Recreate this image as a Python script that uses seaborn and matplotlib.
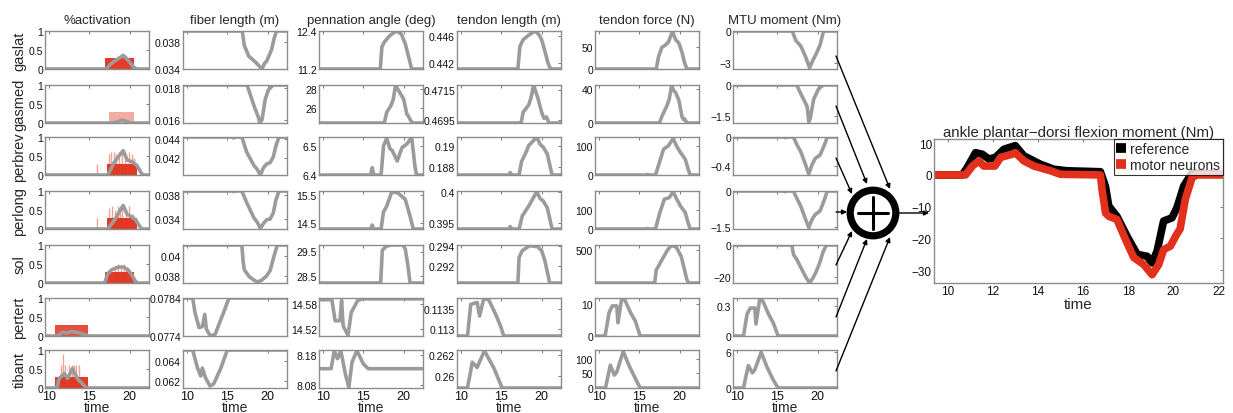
import pandas as pd
import matplotlib
matplotlib.use("Agg")
import matplotlib.pyplot as plt
from matplotlib.patches import Circle
import seaborn as sns

sns.set_style("white")
plt.rcParams['font.family'] = ['Liberation Sans', 'DejaVu Sans']

GRAY = '#9b9b9b'
RED = '#e2301c'
SPINE = '#8c8c8c'

muscles = ['gaslat', 'gasmed', 'perbrev', 'perlong', 'sol', 'pertert', 'tibant']
columns = ['%activation', 'fiber length (m)', 'pennation angle (deg)',
           'tendon length (m)', 'tendon force (N)', 'MTU moment (Nm)']

# ----- curves: (time, value) breakpoints -----
gaslat_act = [(9.5, 0), (17.1, 0), (17.6, 0.12), (18.2, 0.22), (18.8, 0.3), (19.2, 0.36), (19.6, 0.28),
              (20.1, 0.15), (20.5, 0.05), (20.9, 0), (22.4, 0)]
gaslat_fiber = [(9.5, 0.0396), (16.85, 0.0396), (17.1, 0.0375), (17.65, 0.0359), (18.5, 0.035), (19.3, 0.034),
                (19.6, 0.0348), (19.9, 0.0352), (20.5, 0.0369), (20.8, 0.0385), (21.1, 0.0396), (22.4, 0.0396)]
gaslat_penn = [(9.5, 11.2), (17.1, 11.2), (17.3, 11.9), (17.6, 12.05), (18.3, 12.26), (19.1, 12.4), (19.7, 12.31),
               (20.2, 12.0), (20.5, 11.7), (21.0, 11.2), (22.4, 11.2)]
gaslat_tlen = [(9.5, 0.44115), (17.05, 0.44115), (17.3, 0.4445), (17.7, 0.4455), (18.4, 0.4462), (19.2, 0.4468),
               (19.7, 0.4462), (20.0, 0.4455), (20.4, 0.4438), (20.8, 0.442), (21.1, 0.44115), (22.4, 0.44115)]
gaslat_force = [(9.5, 0), (17.1, 0), (17.4, 30), (17.8, 50), (18.2, 55), (18.6, 62), (19.1, 87), (19.5, 68),
                (19.9, 60), (20.3, 38), (20.6, 15), (20.9, 0), (22.4, 0)]
gaslat_mom = [(9.5, 0), (16.85, 0), (17.3, -0.9), (17.9, -1.4), (18.5, -2.4), (19.0, -3.45), (19.3, -2.9),
              (19.9, -2.0), (20.3, -1.3), (20.7, -0.1), (20.9, 0), (22.4, 0)]

gasmed_act = [(9.5, 0), (17.8, 0), (18.5, 0.03), (19.1, 0.08), (19.6, 0.04), (20.2, 0), (22.4, 0)]
gasmed_fiber = [(9.5, 0.0182), (17.45, 0.0182), (18.3, 0.0169), (18.9, 0.0161), (19.0, 0.0158), (19.3, 0.016),
                (19.7, 0.0173), (20.1, 0.0179), (20.7, 0.0182), (22.4, 0.0182)]
gasmed_penn = [(9.5, 24.5), (17.6, 24.5), (17.9, 25.6), (18.4, 26.25), (18.7, 26.9), (19.0, 28.35), (19.4, 27.8),
               (20.0, 26.95), (20.4, 25.4), (20.6, 25.2), (20.8, 24.85), (21.1, 24.5), (22.4, 24.5)]
gasmed_tlen = [(9.5, 0.4693), (17.45, 0.4693), (17.7, 0.47), (18.4, 0.4705), (18.7, 0.471), (19.0, 0.4718),
               (19.3, 0.4713), (19.5, 0.471), (20.0, 0.47), (20.3, 0.4696), (20.6, 0.4697), (20.9, 0.4693),
               (22.4, 0.4693)]
gasmed_force = [(9.5, 0), (17.5, 0), (17.8, 8), (18.4, 20), (18.7, 28), (19.0, 44), (19.3, 38), (19.5, 36),
                (19.9, 27), (20.3, 7), (20.5, 4), (20.6, 5), (20.9, 0), (22.4, 0)]
gasmed_mom = [(9.5, 0), (17.4, 0), (18.0, -0.5), (18.7, -1.05), (18.9, -1.8), (19.1, -1.6), (19.5, -0.7),
              (20.1, -0.2), (20.7, 0), (22.4, 0)]

perbrev_act = [(9.5, 0), (17.3, 0), (18.0, 0.3), (18.6, 0.48), (19.2, 0.64), (19.7, 0.39), (20.3, 0.35),
               (20.9, 0.25), (21.5, 0.03), (21.8, 0), (22.4, 0)]
perbrev_fiber = [(9.5, 0.0442), (15.6, 0.0442), (15.8, 0.0441), (16.0, 0.0442), (16.8, 0.0442), (17.4, 0.0426),
                 (18.3, 0.0412), (18.7, 0.0408), (19.1, 0.0402), (19.5, 0.041), (19.9, 0.04137), (20.3, 0.0415),
                 (20.7, 0.0421), (21.0, 0.0432), (21.4, 0.0442), (22.4, 0.0442)]
perbrev_penn = [(9.5, 6.4), (15.9, 6.4), (16.1, 6.425), (16.3, 6.4), (17.2, 6.4), (17.5, 6.5), (17.9, 6.525),
                (18.3, 6.49), (18.6, 6.483), (19.2, 6.448), (19.8, 6.494), (20.4, 6.506), (21.0, 6.529),
                (21.4, 6.43), (21.6, 6.4), (22.4, 6.4)]
perbrev_tlen = [(9.5, 0.1872), (15.9, 0.1872), (16.1, 0.18744), (16.3, 0.1872), (17.2, 0.1872), (17.5, 0.1885),
                (18.0, 0.1893), (18.4, 0.19007), (19.4, 0.19089), (19.8, 0.1902), (20.2, 0.1899), (20.7, 0.18925),
                (21.0, 0.1882), (21.3, 0.1872), (22.4, 0.1872)]
perbrev_force = [(9.5, 0), (15.8, 0), (16.0, 2), (16.2, 0), (17.0, 0), (17.4, 35), (18.0, 88), (18.6, 100),
                 (19.2, 125), (19.6, 100), (20.1, 77), (20.7, 54), (21.0, 25), (21.3, 0), (22.4, 0)]
perbrev_mom = [(9.5, 0), (15.8, 0), (16.0, -0.01), (16.2, 0), (17.0, 0), (17.4, -0.1), (17.9, -0.2),
               (18.4, -0.35), (18.9, -0.505), (19.3, -0.38), (19.7, -0.293), (20.3, -0.246), (20.8, -0.12),
               (21.2, 0), (22.4, 0)]

perlong_act = [(9.5, 0), (17.3, 0), (18.3, 0.29), (18.7, 0.45), (19.2, 0.62), (19.7, 0.38), (20.3, 0.32),
               (20.8, 0.22), (21.4, 0.02), (21.7, 0), (22.4, 0)]
perlong_fiber = [(9.5, 0.0386), (15.6, 0.0386), (15.8, 0.0385), (16.0, 0.0386), (16.8, 0.0386), (17.4, 0.0367),
                 (18.3, 0.0342), (18.7, 0.0335), (19.1, 0.0325), (19.5, 0.0333), (19.9, 0.0339), (20.3, 0.034),
                 (20.7, 0.035), (21.0, 0.037), (21.4, 0.0386), (22.4, 0.0386)]
perlong_penn = [(9.5, 14.3), (15.9, 14.3), (16.1, 14.44), (16.3, 14.3), (17.2, 14.3), (17.5, 14.9), (17.9, 15.1),
                (18.5, 15.58), (19.2, 15.58), (19.7, 15.46), (20.2, 15.34), (20.8, 14.74), (21.2, 14.3),
                (22.4, 14.3)]
perlong_tlen = [(9.5, 0.3941), (15.9, 0.3941), (16.1, 0.3945), (16.3, 0.3941), (17.2, 0.3941), (17.6, 0.3962),
                (18.4, 0.3978), (19.4, 0.4001), (19.8, 0.399), (20.2, 0.3986), (20.7, 0.3975), (21.0, 0.3958),
                (21.3, 0.3941), (22.4, 0.3941)]
perlong_force = [(9.5, 0), (15.8, 0), (16.0, 3), (16.2, 0), (17.0, 0), (17.5, 80), (18.1, 157), (18.7, 165),
                 (19.2, 196), (19.6, 160), (20.1, 121), (20.7, 86), (21.0, 40), (21.3, 0), (22.4, 0)]
perlong_mom = [(9.5, 0), (15.8, 0), (16.0, -0.03), (16.2, 0), (17.0, 0), (17.4, -0.3), (17.9, -0.63),
               (18.4, -1.1), (18.9, -1.54), (19.3, -1.2), (19.7, -0.99), (20.3, -0.84), (20.8, -0.4),
               (21.2, 0), (22.4, 0)]

sol_act = [(9.5, 0), (16.9, 0), (17.3, 0.25), (17.8, 0.35), (18.6, 0.42), (19.2, 0.42), (19.8, 0.35),
           (20.3, 0.2), (20.7, 0.05), (21.0, 0), (22.4, 0)]
sol_fiber = [(9.5, 0.0411), (16.8, 0.0411), (16.95, 0.0395), (17.1, 0.0386), (17.7, 0.0379), (18.2, 0.0376),
             (18.7, 0.03735), (19.2, 0.0375), (19.8, 0.0379), (20.3, 0.0385), (20.8, 0.04), (21.2, 0.0411),
             (22.4, 0.0411)]
sol_penn = [(9.5, 28.24), (17.15, 28.24), (17.35, 29.55), (17.8, 29.7), (18.4, 29.76), (19.9, 29.76),
            (20.2, 29.6), (20.5, 29.0), (20.8, 28.24), (22.4, 28.24)]
sol_tlen = [(9.5, 0.29024), (17.05, 0.29024), (17.2, 0.2928), (17.6, 0.2935), (18.5, 0.294), (19.5, 0.2939),
            (20.0, 0.2935), (20.4, 0.2925), (20.8, 0.291), (21.0, 0.29024), (22.4, 0.29024)]
sol_force = [(9.5, 0), (16.9, 0), (17.1, 200), (17.4, 260), (17.8, 350), (18.5, 500), (19.0, 570), (19.6, 540),
             (20.2, 400), (20.6, 200), (20.9, 50), (21.1, 0), (22.4, 0)]
sol_mom = [(9.5, 0), (16.8, 0), (17.0, -6), (17.4, -9), (17.8, -13), (18.5, -20), (19.0, -24), (19.4, -21),
           (19.8, -17), (20.2, -12), (20.7, -4), (21.1, 0), (22.4, 0)]

pertert_act = [(9.5, 0), (11.0, 0), (11.7, 0.1), (12.2, 0.08), (12.8, 0.12), (13.8, 0.08), (14.6, 0.02),
               (15.0, 0), (22.4, 0)]
pertert_fiber = [(9.5, 0.0784), (10.7, 0.0784), (11.0, 0.078), (11.5, 0.07762), (11.9, 0.07765), (12.2, 0.07797),
                 (12.4, 0.07758), (12.9, 0.0774), (13.5, 0.07745), (14.2, 0.07784), (14.5, 0.078), (15.2, 0.0784),
                 (22.4, 0.0784)]
pertert_penn = [(9.5, 14.59), (11.1, 14.59), (11.5, 14.54), (12.1, 14.54), (12.3, 14.588), (12.5, 14.528),
                (13.1, 14.505), (13.5, 14.56), (14.3, 14.588), (14.9, 14.592), (22.4, 14.592)]
pertert_tlen = [(9.5, 0.11283), (10.8, 0.11283), (11.2, 0.11362), (12.0, 0.11367), (12.3, 0.11333),
                (12.8, 0.11375), (13.4, 0.11375), (14.3, 0.11337), (14.9, 0.11308), (15.3, 0.11283),
                (22.4, 0.11283)]
pertert_force = [(9.5, 0), (10.75, 0), (11.25, 7.4), (11.65, 9.5), (12.2, 9.5), (12.35, 4.2), (12.8, 11.6),
                 (13.2, 11.4), (13.9, 7.4), (14.5, 4.7), (15.1, 0), (22.4, 0)]
pertert_mom = [(9.5, 0), (10.8, 0), (11.25, 0.22), (11.65, 0.28), (12.2, 0.28), (12.35, 0.12), (12.8, 0.36),
               (13.2, 0.35), (13.9, 0.22), (14.5, 0.13), (15.1, 0), (22.4, 0)]

tibant_act = [(9.5, 0), (11.0, 0), (11.25, 0.25), (11.9, 0.38), (12.3, 0.25), (12.9, 0.51), (13.5, 0.25),
              (14.3, 0.08), (14.6, 0), (22.4, 0)]
tibant_fiber = [(9.5, 0.0651), (10.7, 0.0651), (11.3, 0.0633), (11.7, 0.0625), (11.9, 0.0633), (12.3, 0.0623),
                (12.85, 0.0615), (13.3, 0.0617), (14.2, 0.0633), (15.0, 0.0651), (22.4, 0.0651)]
tibant_penn = [(9.5, 8.134), (11.0, 8.134), (11.4, 8.194), (11.8, 8.167), (12.2, 8.194), (12.8, 8.113),
               (13.2, 8.072), (13.6, 8.156), (14.2, 8.194), (15.0, 8.15), (15.6, 8.134), (22.4, 8.134)]
tibant_tlen = [(9.5, 0.25884), (10.8, 0.25884), (11.4, 0.2613), (12.0, 0.2608), (12.9, 0.2624), (14.1, 0.2607),
               (15.1, 0.25884), (22.4, 0.25884)]
tibant_force = [(9.5, 0), (10.8, 0), (11.4, 78), (11.9, 44), (12.2, 55), (13.0, 125), (13.7, 78), (14.5, 33),
                (15.1, 0), (22.4, 0)]
tibant_mom = [(9.5, 0), (10.8, 0), (11.4, 3.7), (11.9, 2.5), (12.2, 3.0), (13.0, 5.9), (13.7, 3.5), (14.5, 1.3),
              (15.1, 0), (22.4, 0)]

curves = {
    'gaslat': [gaslat_act, gaslat_fiber, gaslat_penn, gaslat_tlen, gaslat_force, gaslat_mom],
    'gasmed': [gasmed_act, gasmed_fiber, gasmed_penn, gasmed_tlen, gasmed_force, gasmed_mom],
    'perbrev': [perbrev_act, perbrev_fiber, perbrev_penn, perbrev_tlen, perbrev_force, perbrev_mom],
    'perlong': [perlong_act, perlong_fiber, perlong_penn, perlong_tlen, perlong_force, perlong_mom],
    'sol': [sol_act, sol_fiber, sol_penn, sol_tlen, sol_force, sol_mom],
    'pertert': [pertert_act, pertert_fiber, pertert_penn, pertert_tlen, pertert_force, pertert_mom],
    'tibant': [tibant_act, tibant_fiber, tibant_penn, tibant_tlen, tibant_force, tibant_mom],
}

# y limits and ticks per panel
ylims = {
    'gaslat': [(0, 1), (0.034, 0.0396), (11.2, 12.4), (0.44115, 0.4468), (0, 88), (-3.55, 0)],
    'gasmed': [(0, 1), (0.0158, 0.0182), (24.5, 28.4), (0.4693, 0.4718), (0, 45), (-1.85, 0)],
    'perbrev': [(0, 1), (0.0402, 0.0442), (6.4, 6.53), (0.1872, 0.1909), (0, 130), (-0.52, 0)],
    'perlong': [(0, 1), (0.03237, 0.0386), (14.3, 15.63), (0.3941, 0.4002), (0, 200), (-1.6, 0)],
    'sol': [(0, 1), (0.03725, 0.0411), (28.24, 29.76), (0.29024, 0.29407), (0, 575), (-24, 0)],
    'pertert': [(0, 1), (0.0774, 0.0784), (14.504, 14.594), (0.11283, 0.11378), (0, 12), (0, 0.38)],
    'tibant': [(0, 1), (0.0613, 0.0651), (8.07, 8.196), (0.25884, 0.26247), (0, 130), (0, 6.27)],
}
yticks = {
    'gaslat': [[0, 0.5, 1], [0.034, 0.038], [11.2, 12.4], [0.442, 0.446], [0, 50], [-3, 0]],
    'gasmed': [[0, 0.5, 1], [0.016, 0.018], [26, 28], [0.4695, 0.4715], [0, 40], [-1.5, 0]],
    'perbrev': [[0, 0.5, 1], [0.042, 0.044], [6.4, 6.5], [0.188, 0.19], [0, 100], [-0.4, 0]],
    'perlong': [[0, 0.5, 1], [0.034, 0.038], [14.5, 15.5], [0.395, 0.4], [0, 100], [-1.5, 0]],
    'sol': [[0, 0.5, 1], [0.038, 0.04], [28.5, 29.5], [0.292, 0.294], [500], [-20, 0]],
    'pertert': [[0, 0.5, 1], [0.0774, 0.0784], [14.52, 14.58], [0.113, 0.1135], [0, 10], [0, 0.3]],
    'tibant': [[0, 0.5, 1], [0.062, 0.064], [8.08, 8.18], [0.26, 0.262], [0, 50, 100], [0, 6]],
}

# motor neuron excitation: block (start, end) at 0.3 plus taller spikes
block_start = [17.0, 17.5, 17.2, 17.2, 16.9, 10.75, 10.75]
block_end = [20.5, 20.5, 20.9, 20.9, 20.5, 14.8, 14.8]
block_alpha = [0.95, 0.4, 0.95, 0.95, 0.95, 0.85, 0.95]
spike_t = [[], [], [15.9, 17.4, 17.7, 18.0, 18.3, 18.7, 19.0, 19.4, 19.9, 20.3, 20.6],
           [15.9, 17.5, 17.8, 18.2, 18.5, 18.8, 19.1, 19.5, 19.9, 20.4],
           [18.2, 18.6, 18.9, 19.3, 19.6], [], [11.5, 11.7, 12.0, 12.5, 12.8, 13.1, 13.4, 13.7]]
spike_h = [[], [], [0.3, 0.55, 0.6, 0.6, 0.55, 0.6, 0.65, 0.55, 0.6, 0.55, 0.45],
           [0.3, 0.55, 0.6, 0.5, 0.6, 0.55, 0.6, 0.5, 0.6, 0.4],
           [0.45, 0.5, 0.45, 0.5, 0.4], [], [0.6, 0.9, 0.6, 0.6, 0.6, 0.6, 0.6, 0.6]]

# ankle moment
ref_t = [9.4, 10.65, 10.87, 11.24, 11.54, 11.83, 12.12, 12.5, 13.0, 13.38, 14.1, 14.7, 15.3, 16.77, 16.99,
         17.14, 17.5, 17.95, 18.4, 18.84, 19.06, 19.28, 19.57, 19.94, 20.16, 20.46, 20.83, 21.2, 22.2]
ref_v = [0, 0, 2.3, 7.0, 6.5, 5.0, 5.5, 8.1, 9.2, 6.0, 3.4, 1.8, 1.3, 1.0, -3.5, -9.8, -13, -19.3, -25,
         -25.6, -27.7, -24, -14.5, -13.5, -10.3, -3.5, 0.7, 0.5, 0.2]
mn_t = [9.4, 10.8, 11.1, 11.39, 11.6, 12.1, 12.35, 12.85, 13.0, 13.38, 13.82, 14.56, 15.0, 16.77, 16.85,
        17.0, 17.14, 17.5, 17.95, 18.25, 18.69, 19.06, 19.35, 19.57, 19.87, 20.1, 20.3, 20.53, 20.83, 21.05, 22.2]
mn_v = [0, 0, 2.8, 4.4, 2.8, 2.8, 5.5, 6.5, 7.0, 4.4, 2.8, 1.3, 0.2, 0, -5, -12, -13, -14, -21.4, -26,
        -28.2, -31.4, -28.2, -23.5, -22.4, -19.3, -17, -7.7, -0.8, 0, 0]

W, H = 1233, 414
fig = plt.figure(figsize=(W / 100, H / 100), dpi=100)


def rect(left, top, w, h):
    return [left / W, 1 - (top + h) / H, w / W, h / H]


def fmt(v):
    s = ('%g' % v)
    return s.replace('-', '\u2212')


def style(ax, fs=7.5):
    for sp in ax.spines.values():
        sp.set_color(SPINE)
        sp.set_linewidth(1.0)
    ax.tick_params(direction='in', length=2.5, width=0.7, color='#777777', labelsize=fs,
                   top=True, right=True, pad=1.5, labelcolor='#111111')


col_left = [45, 183, 319, 457, 595, 733]
row_top = [32, 86, 138, 192, 246, 299, 351]
PW, PH = 104, 38

for i, m in enumerate(muscles):
    for j in range(6):
        ax = fig.add_axes(rect(col_left[j], row_top[i], PW, PH))
        if j == 0:
            ax.bar(block_start[i], 0.3, width=block_end[i] - block_start[i], align='edge',
                   color=RED, alpha=block_alpha[i], linewidth=0)
            if spike_t[i]:
                ax.vlines(spike_t[i], 0, spike_h[i], color=RED, alpha=0.45, lw=1.0)
        df = pd.DataFrame(curves[m][j], columns=['time', 'value'])
        sns.lineplot(data=df, x='time', y='value', ax=ax, color=GRAY, lw=2.6,
                     estimator=None, sort=False)
        ax.set_xlim(9.5, 22.4)
        ax.set_ylim(*ylims[m][j])
        ax.set_xticks([10, 15, 20])
        ax.set_yticks(yticks[m][j])
        ax.set_yticklabels([fmt(v) for v in yticks[m][j]])
        style(ax)
        ax.set_ylabel('')
        if i == len(muscles) - 1:
            ax.set_xticklabels(['10', '15', '20'], fontsize=9)
            ax.set_xlabel('time', fontsize=10, labelpad=-1.5)
        else:
            ax.set_xticklabels([])
            ax.set_xlabel('')
        if i == 0:
            ax.set_title(columns[j], fontsize=9.5, pad=6)
        if j == 0:
            ax.set_ylabel(m, fontsize=10.5, labelpad=1.5)

# big panel
bx = fig.add_axes(rect(934, 140, 289, 144))
big = pd.concat([pd.DataFrame({'time': ref_t, 'moment': ref_v, 'source': 'reference'}),
                 pd.DataFrame({'time': mn_t, 'moment': mn_v, 'source': 'motor neurons'})])
sns.lineplot(data=big, x='time', y='moment', hue='source', palette={'reference': 'black', 'motor neurons': RED},
             ax=bx, lw=5.5, estimator=None, sort=False)
bx.set_xlim(9.4, 22.2)
bx.set_ylim(-34, 11.3)
bx.set_xticks([10, 12, 14, 16, 18, 20, 22])
bx.set_yticks([-30, -20, -10, 0, 10])
bx.set_yticklabels([fmt(v) for v in [-30, -20, -10, 0, 10]])
style(bx, fs=8.5)
bx.set_ylabel('')
bx.set_xlabel('time', fontsize=11, labelpad=0)
bx.set_title('ankle plantar\u2212dorsi flexion moment (Nm)', fontsize=10.8, pad=2)
leg = bx.legend(loc='upper right', fontsize=10, handlelength=0.7, handletextpad=0.3, borderaxespad=0,
                borderpad=0.2, labelspacing=0.15, frameon=True, fancybox=False)
leg.get_frame().set_edgecolor('black')
leg.get_frame().set_linewidth(0.8)
for ln in leg.get_lines():
    ln.set_linewidth(7)
    ln.set_solid_capstyle('butt')

# arrows and summation node
ov = fig.add_axes([0, 0, 1, 1])
ov.set_xlim(0, W)
ov.set_ylim(H, 0)
ov.axis('off')
ov.patch.set_alpha(0)
starts = [(836, 57), (836, 107), (836, 159), (836, 213), (836, 266), (836, 318), (836, 372)]
ends = [(890, 190), (867, 185), (852, 195), (847, 213), (852, 232), (867, 240), (890, 238)]
for s, e in zip(starts, ends):
    ov.annotate('', xy=e, xytext=s,
                arrowprops=dict(arrowstyle='-|>', color='black', lw=1.0, mutation_scale=7, shrinkA=0, shrinkB=0))
ov.add_patch(Circle((873, 214), 22.8, fill=False, ec='black', lw=5.2))
ov.plot([858, 888], [214, 214], color='black', lw=2.2)
ov.plot([873, 873], [198, 230], color='black', lw=2.2)
ov.annotate('', xy=(929, 214), xytext=(899, 214),
            arrowprops=dict(arrowstyle='-|>', color='black', lw=1.0, mutation_scale=7, shrinkA=0, shrinkB=0))

fig.savefig('out.png', dpi=100)
